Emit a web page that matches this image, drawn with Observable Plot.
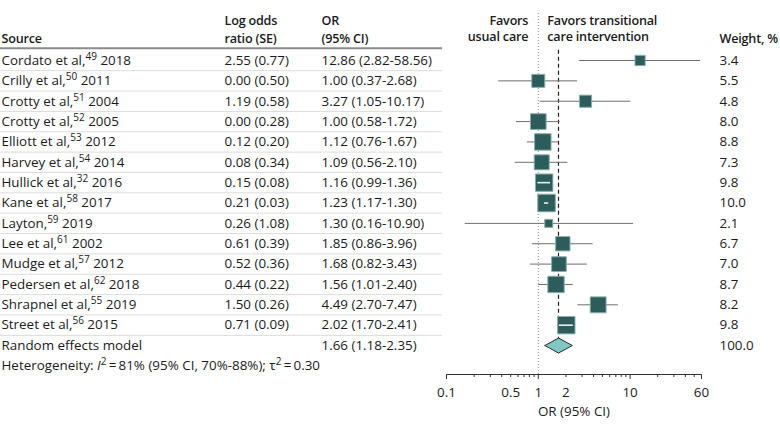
<!DOCTYPE html>
<html><head><meta charset="utf-8">
<script src="https://cdn.jsdelivr.net/npm/d3@7"></script>
<script src="https://cdn.jsdelivr.net/npm/@observablehq/plot@0.6"></script>
<style>
html,body{margin:0;padding:0;background:#fff;}
#chart svg{font-family:"Open Sans",sans-serif;}
</style></head><body><div id="chart"></div>
<script>
// ---- data ----
const authors = ["Cordato et al","Crilly et al","Crotty et al","Crotty et al","Elliott et al","Harvey et al","Hullick et al","Kane et al","Layton","Lee et al","Mudge et al","Pedersen et al","Shrapnel et al","Street et al"];
const refs = [49,50,51,52,53,54,32,58,59,61,57,62,55,56];
const years = [2018,2011,2004,2005,2012,2014,2016,2017,2019,2002,2012,2018,2019,2015];
const logOR = [2.55,0.00,1.19,0.00,0.12,0.08,0.15,0.21,0.26,0.61,0.52,0.44,1.50,0.71];
const logSE = [0.77,0.50,0.58,0.28,0.20,0.34,0.08,0.03,1.08,0.39,0.36,0.22,0.26,0.09];
const oddsRatio = [12.86,1.00,3.27,1.00,1.12,1.09,1.16,1.23,1.30,1.85,1.68,1.56,4.49,2.02];
const ciLow = [2.82,0.37,1.05,0.58,0.76,0.56,0.99,1.17,0.16,0.86,0.82,1.01,2.70,1.70];
const ciHigh = [58.56,2.68,10.17,1.72,1.67,2.10,1.36,1.30,10.90,3.96,3.43,2.40,7.47,2.41];
const weights = [3.4,5.5,4.8,8.0,8.8,7.3,9.8,10.0,2.1,6.7,7.0,8.7,8.2,9.8];
const pooledLabel = "Random effects model";
const pooledEstimate = [1.66, 1.18, 2.35];   // OR, lower, upper
const pooledWeight = 100.0;
const heterogeneityI2 = [81, 70, 88];        // I², lower, upper (%)
const heterogeneityTau2 = 0.30;
const headerTop = ["", "Log odds", "OR", ""];
const headerBottom = ["Source", "ratio (SE)", "(95% CI)", "Weight, %"];
const favorsLeft = ["Favors", "usual care"];
const favorsRight = ["Favors transitional", "care intervention"];
const axisTitle = "OR (95% CI)";
const tickLabels = [0.1, 0.5, 1, 2, 10, 60];
const majorTicks = [0.1, 1, 10, 60];
const minorTicks = [0.2,0.3,0.4,0.5,0.6,0.7,0.8,0.9,2,3,4,5,6,7,8,9,20,30,40,50];

// ---- layout / style ----
const W = 780, H = 429;
const colX = [1, 224, 321, 719];
const rowStep = 20.36, rowTop = 60;
const xOpts = {type: "log", domain: [0.1, 60], range: [446, 701]};
const rOpts = {type: "sqrt", domain: [0, d3.max(weights)], range: [0, 9.9]};
const ink = "#1b1b1b";

const studies = authors.map((a, i) => ({
  row: i,
  source: `${a},${refs[i]} ${years[i]}`,
  logText: `${logOR[i].toFixed(2)} (${logSE[i].toFixed(2)})`,
  orText: `${oddsRatio[i].toFixed(2)} (${ciLow[i].toFixed(2)}-${ciHigh[i].toFixed(2)})`,
  wText: weights[i].toFixed(1),
  or: oddsRatio[i], lo: ciLow[i], hi: ciHigh[i], w: weights[i]
}));
const pooledRow = studies.length;
const hetRow = pooledRow + 1;

const xs = Plot.scale({x: xOpts});
const rs = Plot.scale({r: rOpts});
const insideBox = d => {
  const c = xs.apply(d.or), h = rs.apply(d.w) * Math.sqrt(Math.PI) / 2;
  return xs.apply(d.lo) >= c - h && xs.apply(d.hi) <= c + h;
};

const dh = 7.5 / rowStep;
const diamond = [
  {x: pooledEstimate[1], y: pooledRow},
  {x: pooledEstimate[0], y: pooledRow - dh},
  {x: pooledEstimate[2], y: pooledRow},
  {x: pooledEstimate[0], y: pooledRow + dh},
  {x: pooledEstimate[1], y: pooledRow}
];

const hetText = `Heterogeneity: I2\u2009=\u2009${heterogeneityI2[0]}% (95% CI, ${heterogeneityI2[1]}%-${heterogeneityI2[2]}%); τ2\u2009=\u2009${heterogeneityTau2.toFixed(2)}`;

const bodySize = 13.4;
const txt = {fill: ink, fontSize: bodySize};
const head = {fill: ink, fontSize: 12.6, fontWeight: 600, lineAnchor: "middle"};
const colText = (data, field, i, extra = {}) => Plot.text(data, {y: "row", text: field, frameAnchor: "left", textAnchor: "start", lineAnchor: "middle", dx: colX[i], ...txt, ...extra});

const marks = [
  // header rule and row separators
  Plot.ruleY([-0.5], {insetRight: W - 442, stroke: "#8c8c8c", strokeWidth: 2, dy: -2}),
  Plot.ruleY(d3.range(pooledRow), {y: d => d + 0.5, insetRight: W - 442, stroke: "#dcdcdc", strokeWidth: 1}),
  // reference lines
  Plot.ruleX([1], {stroke: "#8a8a8a", strokeDasharray: "1,2", strokeWidth: 1}),
  Plot.ruleX([pooledEstimate[0]], {y1: -0.5, y2: pooledRow, stroke: "#1e1e1e", strokeDasharray: "4,3", strokeWidth: 1.2}),
  // CIs and squares
  Plot.ruleY(studies, {y: "row", x1: "lo", x2: "hi", stroke: "#6e6e6e", strokeWidth: 1}),
  Plot.dot(studies, {x: "or", y: "row", r: "w", symbol: "square", fill: "#2c5d5b", stroke: "#88aeab", strokeWidth: 1}),
  Plot.ruleY(studies.filter(insideBox), {y: "row", x1: "lo", x2: "hi", stroke: "#e8eeee", strokeWidth: 1.6}),
  // pooled diamond
  Plot.line(diamond, {x: "x", y: "y", fill: "#80c8c3", stroke: "#2a2a2a", strokeWidth: 1}),
  // x axis
  Plot.frame({anchor: "bottom", insetLeft: xOpts.range[0], insetRight: W - xOpts.range[1], stroke: "#333"}),
  Plot.axisX(majorTicks, {tickSize: 5, tickFormat: () => "", label: null, stroke: "#333"}),
  Plot.axisX(minorTicks, {tickSize: 3, tickFormat: () => "", label: null, stroke: "#333"}),
  Plot.text(tickLabels, {x: d => d, text: d => String(d), frameAnchor: "bottom", lineAnchor: "middle", dy: 18, ...txt}),
  Plot.text([axisTitle], {x: Math.sqrt(xOpts.domain[0] * xOpts.domain[1]), frameAnchor: "bottom", lineAnchor: "middle", dy: 37, ...txt}),
  // table columns
  colText(studies, "source", 0),
  colText(studies, "logText", 1),
  colText(studies, "orText", 2),
  colText(studies, "wText", 3),
  colText([{row: pooledRow, t: pooledLabel}], "t", 0),
  colText([{row: pooledRow, t: `${pooledEstimate[0].toFixed(2)} (${pooledEstimate[1].toFixed(2)}-${pooledEstimate[2].toFixed(2)})`}], "t", 2),
  colText([{row: pooledRow, t: pooledWeight.toFixed(1)}], "t", 3),
  colText([{row: hetRow, t: hetText}], "t", 0),
  // headers
  ...headerTop.map((t, i) => Plot.text([t], {frameAnchor: "top-left", textAnchor: "start", dx: colX[i], dy: 7, ...head})),
  ...headerBottom.map((t, i) => Plot.text([t], {frameAnchor: "top-left", textAnchor: "start", dx: colX[i], dy: 25, ...head})),
  ...favorsLeft.map((t, j) => Plot.text([t], {x: 1, frameAnchor: "top", textAnchor: "end", dx: -10, dy: 7 + j * 16.5, ...head})),
  ...favorsRight.map((t, j) => Plot.text([t], {x: 1, frameAnchor: "top", textAnchor: "start", dx: 9, dy: 7 + j * 16.5, ...head}))
];

const chart = Plot.plot({
  width: W, height: H,
  marginTop: 13, marginBottom: 55, marginLeft: 0, marginRight: 0,
  style: {fontFamily: "'Open Sans', sans-serif", fontSize: "13px", color: ink, background: "#fff"},
  x: xOpts,
  y: {domain: [0, hetRow], range: [rowTop, rowTop + hetRow * rowStep], axis: null},
  r: rOpts,
  marks
});

// superscripts / italics / tight headers
const SUP = 'font-size="10" dy="-5"';
d3.select(chart).selectAll("text").each(function () {
  const s = this.textContent;
  const m = s.match(/^(.+,)(\d+)( \d{4})$/);
  if (m) {
    this.innerHTML = `${m[1]}<tspan ${SUP}>${m[2]}</tspan><tspan dy="5">${m[3]}</tspan>`;
  } else if (s.startsWith("Heterogeneity")) {
    this.innerHTML = `Heterogeneity: <tspan font-style="italic">I</tspan><tspan ${SUP}>2</tspan><tspan dy="5">\u2009=\u2009${heterogeneityI2[0]}% (95% CI, ${heterogeneityI2[1]}%-${heterogeneityI2[2]}%); τ</tspan><tspan ${SUP}>2</tspan><tspan dy="5">\u2009=\u2009${heterogeneityTau2.toFixed(2)}</tspan>`;
  }
});
d3.select(chart).selectAll("text").filter(function () {
  return [...headerTop, ...headerBottom, ...favorsLeft, ...favorsRight].includes(this.textContent) && this.textContent !== "";
}).attr("letter-spacing", "-0.2");
document.getElementById("chart").appendChild(chart);
</script></body></html>
